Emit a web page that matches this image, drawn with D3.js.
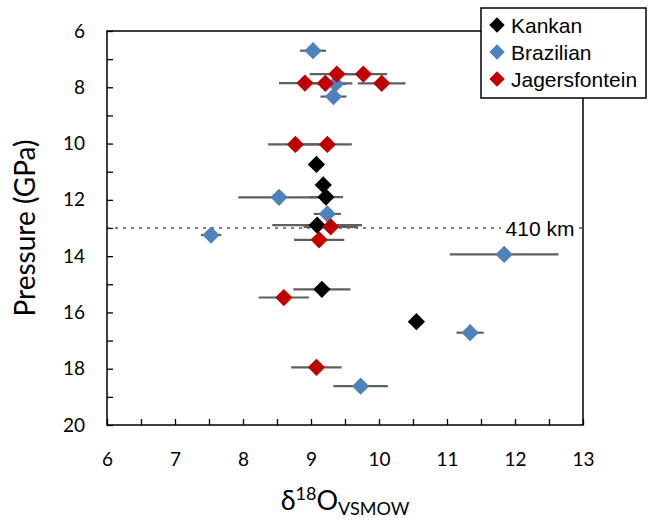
<!DOCTYPE html>
<html>
<head>
<meta charset="utf-8">
<script src="https://cdn.jsdelivr.net/npm/d3@7"></script>
<style>
    body { margin: 0; background: #fff; }
    .tick text { font-family: Lato, "Open Sans", sans-serif; font-size: 19px; fill: #000; }
    .legend text, .depthLabel { font-family: "Liberation Sans", Arial, sans-serif; font-size: 21px; }
</style>
</head>
<body>
<svg class="chart"></svg>
<script>
// series: [d18O, pressure, error]
var kankanX = [9.08, 9.18, 9.22, 9.09, 9.16, 10.55];
var kankanP = [10.74, 11.47, 11.9, 12.9, 15.18, 16.33];
var kankanErr = [0, 0, 0.25, 0.66, 0.42, 0];

var brazilX = [9.03, 9.36, 9.33, 8.53, 9.24, 7.53, 11.84, 11.34, 9.73];
var brazilP = [6.7, 7.88, 8.33, 11.91, 12.5, 13.25, 13.94, 16.72, 18.62];
var brazilErr = [0.19, 0.15, 0.19, 0.6, 0.2, 0.15, 0.8, 0.2, 0.4];

var jagerX = [8.91, 9.21, 9.38, 9.77, 10.04, 8.77, 9.24, 9.29, 9.12, 8.6, 9.08];
var jagerP = [7.85, 7.86, 7.53, 7.53, 7.86, 10.03, 10.03, 12.96, 13.42, 15.47, 17.95];
var jagerErr = [0.38, 0.4, 0.4, 0.35, 0.35, 0.4, 0.36, 0.4, 0.37, 0.37, 0.37];

var seriesNames = ["Kankan", "Brazilian", "Jagersfontein"];
var seriesColors = ["#000000", "#4f81bd", "#c00000"];

var xTicks = [6, 7, 8, 9, 10, 11, 12, 13];
var yTicks = [6, 8, 10, 12, 14, 16, 18, 20];
var depthPressure = 13;
var depthText = "410 km";

function makeSeries(xs, ps, errs) {
    return xs.map(function (x, i) { return {x: x, p: ps[i], err: errs[i]}; });
}

var series = [
    makeSeries(kankanX, kankanP, kankanErr),
    makeSeries(brazilX, brazilP, brazilErr),
    makeSeries(jagerX, jagerP, jagerErr)
];

var outerSize = {width: 651, height: 527};
var plot = {left: 107, right: 583, top: 31, bottom: 425};

var svg = d3.select(".chart")
        .attr("width", outerSize.width)
        .attr("height", outerSize.height);

var xScale = d3.scaleLinear().domain([6, 13]).range([plot.left, plot.right]);
var yScale = d3.scaleLinear().domain([6, 20]).range([plot.top, plot.bottom]);

// minor ticks
svg.append("g")
        .attr("transform", "translate(0," + plot.bottom + ")")
        .call(d3.axisBottom(xScale).tickValues(d3.range(6, 13.01, 0.5)).tickSize(-6).tickFormat(""))
        .call(function (g) { g.select(".domain").remove(); })
        .selectAll("line").attr("stroke", "#000").attr("stroke-width", 1.3);
svg.append("g")
        .attr("transform", "translate(" + plot.left + ",0)")
        .call(d3.axisLeft(yScale).tickValues(d3.range(6, 20.01, 1)).tickSize(-6).tickFormat(""))
        .call(function (g) { g.select(".domain").remove(); })
        .selectAll("line").attr("stroke", "#000").attr("stroke-width", 1.3);

// labelled axes
svg.append("g")
        .attr("transform", "translate(0," + plot.bottom + ")")
        .call(d3.axisBottom(xScale).tickValues(xTicks).tickSize(0).tickPadding(28).tickFormat(d3.format("d")))
        .call(function (g) { g.select(".domain").remove(); });
svg.append("g")
        .attr("transform", "translate(" + plot.left + ",0)")
        .call(d3.axisLeft(yScale).tickValues(yTicks).tickSize(0).tickPadding(22).tickFormat(d3.format("d")))
        .call(function (g) { g.select(".domain").remove(); });

// dotted 410 km line
svg.append("line")
        .attr("x1", plot.left).attr("x2", plot.right)
        .attr("y1", yScale(depthPressure)).attr("y2", yScale(depthPressure))
        .attr("stroke", "#555").attr("stroke-width", 1.3)
        .attr("stroke-dasharray", "3,5");

// error bars
series.forEach(function (data) {
    svg.append("g").selectAll("line")
            .data(data.filter(function (d) { return d.err > 0; }))
            .enter().append("line")
            .attr("x1", function (d) { return xScale(d.x - d.err); })
            .attr("x2", function (d) { return xScale(d.x + d.err); })
            .attr("y1", function (d) { return yScale(d.p); })
            .attr("y2", function (d) { return yScale(d.p); })
            .attr("stroke", "#5f5f5f").attr("stroke-width", 2.2);
});

var diamond = d3.symbol().type(d3.symbolDiamond2).size(190);

series.forEach(function (data, i) {
    svg.append("g").selectAll("path")
            .data(data)
            .enter().append("path")
            .attr("d", diamond)
            .attr("transform", function (d) {
                return "translate(" + xScale(d.x) + "," + yScale(d.p) + ")";
            })
            .attr("fill", seriesColors[i]);
});

// plot frame
svg.append("rect")
        .attr("x", plot.left).attr("y", plot.top)
        .attr("width", plot.right - plot.left).attr("height", plot.bottom - plot.top)
        .attr("fill", "none").attr("stroke", "#000").attr("stroke-width", 1.5);

// 410 km label
var depthLabel = svg.append("g")
        .attr("transform", "translate(540," + yScale(depthPressure) + ")");
depthLabel.append("rect")
        .attr("x", -39).attr("y", -13).attr("width", 78).attr("height", 26)
        .attr("fill", "#fff");
depthLabel.append("text")
        .attr("class", "depthLabel")
        .attr("text-anchor", "middle")
        .attr("dy", "0.36em")
        .text(depthText);

// legend
var legend = svg.append("g").attr("class", "legend");
legend.append("rect")
        .attr("x", 481).attr("y", 8).attr("width", 165).attr("height", 90)
        .attr("fill", "#fff").attr("stroke", "#000").attr("stroke-width", 1.5);
var legendDiamond = d3.symbol().type(d3.symbolDiamond2).size(150);
seriesNames.forEach(function (name, i) {
    var row = legend.append("g").attr("transform", "translate(497," + (25 + i * 27) + ")");
    row.append("path").attr("d", legendDiamond).attr("fill", seriesColors[i]);
    row.append("text").attr("x", 14).attr("dy", "0.36em").text(name);
});

// axis titles
svg.append("text")
        .attr("transform", "translate(35," + ((plot.top + plot.bottom) / 2) + ") rotate(-90)")
        .attr("text-anchor", "middle")
        .style("font-family", "Lato, sans-serif")
        .style("font-size", "28px")
        .text("Pressure (GPa)");

var xTitle = svg.append("text")
        .attr("x", (plot.left + plot.right) / 2)
        .attr("y", 510)
        .attr("text-anchor", "middle")
        .style("font-family", "Lato, sans-serif")
        .style("font-size", "27px");
xTitle.append("tspan").text("δ");
xTitle.append("tspan").attr("dy", -10).style("font-size", "18px").text("18");
xTitle.append("tspan").attr("dy", 10).text("O");
xTitle.append("tspan").attr("dy", 5).style("font-size", "18px").text("VSMOW");
</script>
</body>
</html>
